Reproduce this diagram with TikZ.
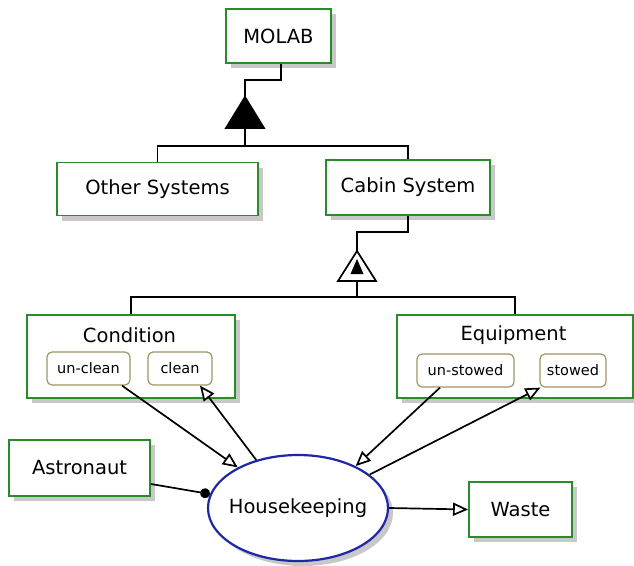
\documentclass[tikz,border=0pt]{standalone}
\usepackage{fontspec}
\setmainfont{DejaVu Sans}
\usetikzlibrary{arrows.meta,shapes.geometric,shadows,calc}
\definecolor{objgreen}{RGB}{40,140,40}
\definecolor{procblue}{RGB}{30,40,165}
\definecolor{stateol}{RGB}{160,150,100}
\definecolor{shadowgray}{RGB}{200,200,200}
\begin{document}
\begin{tikzpicture}[x=1pt,y=-1pt,
  shad/.style={drop shadow={shadow xshift=5pt,shadow yshift=-5pt,fill=shadowgray,opacity=1}},
  bigfont/.style={font=\fontsize{19.5}{23}\selectfont},
  obj/.style={draw=objgreen,line width=1.9pt,fill=white,shad,inner sep=0pt,bigfont},
  title/.style={inner sep=0pt,bigfont},
  state/.style={draw=stateol,line width=1.2pt,rounded corners=5pt,fill=white,inner sep=0pt,font=\fontsize{14.5}{17}\selectfont},
  proc/.style={ellipse,draw=procblue,line width=2.2pt,fill=white,shad,inner sep=0pt,minimum width=180pt,minimum height=106pt,bigfont},
  link/.style={line width=1.7pt,draw=black},
  res/.style={link,-{Triangle[open,length=15pt,width=13pt,fill=white]}},
  agent/.style={link,-{Circle[length=10pt]}}]
\useasboundingbox (0,0) rectangle (634,565);
% objects
\node[obj,minimum width=105pt,minimum height=54pt] (molab) at (278.5,36) {MOLAB};
\node[obj,minimum width=201pt,minimum height=53pt] (other) at (157.5,189) {Other Systems};
\node[obj,minimum width=164pt,minimum height=55pt] (cabin) at (408,187.5) {Cabin System};
\node[obj,minimum width=208pt,minimum height=83pt] (cond) at (131,356.5) {};
\node[title] (condt) at (129.5,335) {Condition};
\node[state,minimum width=83pt,minimum height=33pt] (unclean) at (88.5,368.5) {un-clean};
\node[state,minimum width=64pt,minimum height=33pt] (clean) at (180,368.5) {clean};
\node[obj,minimum width=236pt,minimum height=83pt] (equip) at (515,356.5) {};
\node[title] (equipt) at (513.5,335) {Equipment};
\node[state,minimum width=97pt,minimum height=33pt] (unstowed) at (465.5,370.5) {un-stowed};
\node[state,minimum width=66pt,minimum height=33pt] (stowed) at (573,370.5) {stowed};
\node[obj,minimum width=141pt,minimum height=56pt] (astro) at (79.5,468) {Astronaut};
\node[proc] (hk) at (298,508) {\makebox[0pt]{Housekeeping}};
\node[obj,minimum width=103pt,minimum height=55pt] (waste) at (520.5,509.5) {Waste};
% aggregation
\coordinate (aggtop) at (245,97);
\coordinate (aggbot) at (245,128);
\draw[link] ($(molab.south)+(2.5,0)$) |- ($(aggtop)+(0,-17)$) -- (aggtop);
\draw[link,fill=black] (aggtop) -- ++(-19,31) -- ++(38,0) -- cycle;
\draw[link] (aggbot) -- ++(0,18) coordinate (aggbar);
\draw[link] (other.north) |- (aggbar) -| (cabin.north);
% exhibition
\coordinate (exhtop) at (357,251);
\coordinate (exhbot) at (357,281);
\draw[link] (cabin.south) |- ($(exhtop)+(0,-19)$) -- (exhtop);
\draw[link,fill=white] (exhtop) -- ++(-19,30) -- ++(38,0) -- cycle;
\fill (357,259) -- (350.5,274) -- (363.5,274) -- cycle;
\draw[link] (exhbot) -- ++(0,16) coordinate (exhbar);
\draw[link] (cond.north) |- (exhbar) -| (equip.north);
% procedural links
\draw[res] ($(unclean.south)+(33.5,0)$) -- (hk.146);
\draw[res] (hk.131) -- ($(clean.south)+(20,0)$);
\draw[res] ($(unstowed.south)+(-25.5,0)$) -- (hk.36);
\draw[res] (hk.25) -- ($(stowed.south west)+(1,0)$);
\draw[res] (hk.east) -- (waste.west);
\draw[agent] ($(astro.east)+(0,16)$) -- (hk.171.5);
\end{tikzpicture}
\end{document}
